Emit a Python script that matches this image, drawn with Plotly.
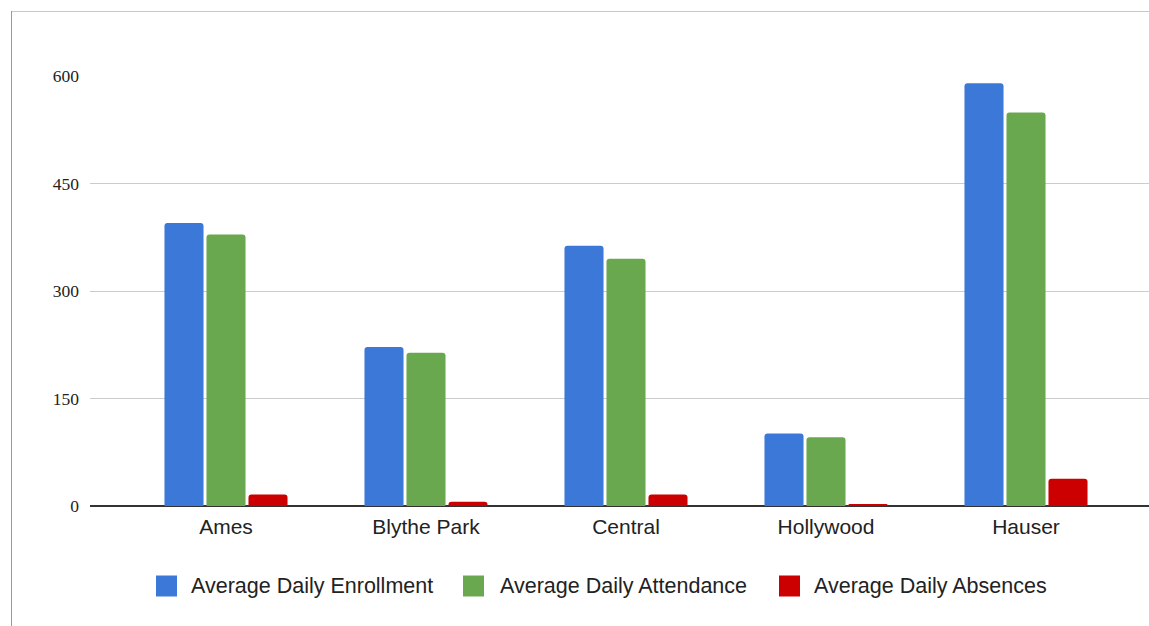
import plotly.graph_objects as go

schools = ["Ames", "Blythe Park", "Central", "Hollywood", "Hauser"]
enrollment = [395, 222, 363, 101, 590]
attendance = [379, 214, 345, 96, 549]
absences = [16, 6, 16, 1.5, 38]

series_names = ["Average Daily Enrollment", "Average Daily Attendance", "Average Daily Absences"]
series_colors = ["#3c78d8", "#6aa84f", "#cc0000"]
y_ticks = [0, 150, 300, 450, 600]

W, H = 1149, 626
L, R, T, B = 90, 0, 76, 120
PW, PH = W - L - R, H - T - B


def px_x(px):
    return (px - L) / PW


def px_y(py):
    return (H - B - py) / PH


fig = go.Figure()
for name, vals, col in zip(series_names, [enrollment, attendance, absences], series_colors):
    fig.add_trace(go.Bar(x=schools, y=vals, name=name, marker=dict(color=col, line=dict(width=0)),
                         showlegend=False))

fig.update_layout(
    width=W, height=H,
    margin=dict(l=L, r=R, t=T, b=B),
    paper_bgcolor="white", plot_bgcolor="white",
    barmode="group", bargap=0.37, bargroupgap=0.07, barcornerradius=3,
    font=dict(family="Liberation Sans, Arial, sans-serif", color="#222222"),
    xaxis=dict(range=[-0.68, 4.615], showgrid=False, showline=False, zeroline=False,
               tickfont=dict(size=21, family="Liberation Sans, Arial", color="#222222"),
               ticks="", ticklabelstandoff=6),
    yaxis=dict(range=[0, 600], tickvals=y_ticks, showgrid=True, gridcolor="#cccccc", gridwidth=1,
               zeroline=True, zerolinecolor="#333333", zerolinewidth=1.5, showline=False,
               tickfont=dict(size=17.5, family="Liberation Serif, Times New Roman, serif", color="#222222"),
               ticks="", ticklabelstandoff=10),
)

# outer frame (top and left edges)
fig.add_shape(type="line", xref="paper", yref="paper", x0=px_x(11), x1=px_x(W), y0=px_y(11.5), y1=px_y(11.5),
              line=dict(color="#c8c8c8", width=1))
fig.add_shape(type="line", xref="paper", yref="paper", x0=px_x(11.5), x1=px_x(11.5), y0=px_y(11), y1=px_y(H),
              line=dict(color="#9a9a9a", width=1))

# custom legend
leg_sq_x = [156, 463, 779]
leg_txt_x = [189, 498, 812]
leg_cy = 586
for name, col, sx, tx in zip(series_names, series_colors, leg_sq_x, leg_txt_x):
    fig.add_shape(type="rect", xref="paper", yref="paper",
                  x0=px_x(sx), x1=px_x(sx + 21), y0=px_y(leg_cy - 10.5), y1=px_y(leg_cy + 10.5),
                  fillcolor=col, line=dict(width=0))
    fig.add_annotation(xref="paper", yref="paper", x=px_x(tx), y=px_y(leg_cy), text=name,
                       showarrow=False, xanchor="left", yanchor="middle",
                       font=dict(size=21.5, family="Liberation Sans, Arial", color="#222222"))

fig.write_html("out.html", config={"displayModeBar": False},
               post_script="document.body.style.margin='0';document.body.style.overflow='hidden';")
